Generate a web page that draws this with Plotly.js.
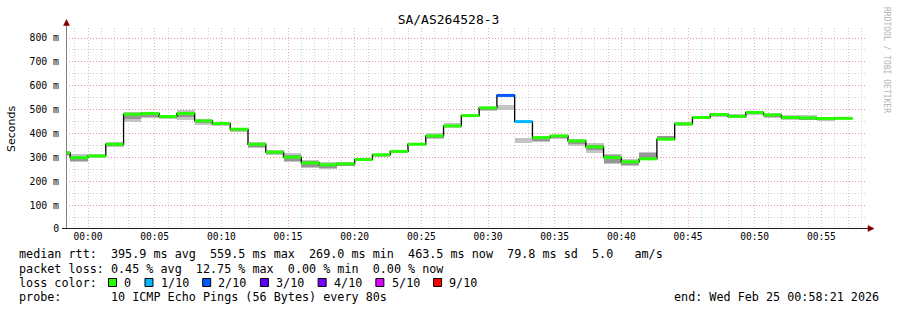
<!DOCTYPE html>
<html>
<head>
<meta charset="utf-8">
<script src="https://cdn.plot.ly/plotly-3.0.1.min.js"></script>
<style>html,body{margin:0;padding:0;background:#fff;}#chart{width:897px;height:310px;}</style>
</head>
<body>
<div id="chart"></div>
<script>
// ---- data ----
const chartTitle = 'SA/AS264528-3';
const firstStepStart = '2026-02-24T23:57:20';
const stepSeconds = 80;
const rangeStart = '2026-02-24 23:58:21';
const rangeEnd = '2026-02-25 00:58:21';

const medianRtt = [319, 299, 306, 355, 481, 484, 471, 484, 453, 442, 418, 355, 322, 301, 277, 269, 273, 291, 311, 325, 355, 390, 432, 475, 507.5, 559.5, 450, 383, 390, 369, 344, 299.5, 281.4, 294, 376, 440.5, 467, 479.6, 472, 488, 478, 467, 465.5, 462.8, 463.5];
const lostPings = [0,0,0,0,0,0,0,0,0,0,0,0,0,0,0,0,0,0,0,0,0,0,0,0,0,2,1,0,0,0,0,0,0,0,0,0,0,0,0,0,0,0,0,0,0];
const smokeLow  = [305,280,298,342,450,465,459,458,436,431,405,338,308,279,254,251,263,285,303,319,351,377,424,468,495,498,359,363,377,346,318,273,263,290,372,432,460,470,464,478,466,458,456,454,459];
const smokeHigh = [326,315,315,366,492,490,478,500,461,447,424,363,329,318,288,279,280,295,315,329,360,402,445,482,513,519,380,391,395,376,360,316,295,322,391,447,474,487,481,492,485,478,476,470,470];
const smokeCoreLow  = [312,283,300,348,459,470,463,470,442,434,410,342,313,284,258,256,266,287,305,321,352,382,428,471,500,null,null,370,382,355,330,277,270,293,378,436,463,474,467,481,470,460,458,455,462];
const smokeCoreHigh = [322,298,308,360,478,478,472,478,452,442,418,352,320,310,283,270,273,292,311,326,356,394,437,476,506,null,null,383,390,366,352,312,285,320,390,442,468,480,476,488,478,468,466,462,470];

const lossLevels = [0, 1, 2, 3, 4, 5, 9];
const lossLabels = ['0', '1/10', '2/10', '3/10', '4/10', '5/10', '9/10'];
const lossColors = ['#26ff00', '#00b8ff', '#0059ff', '#5e00ff', '#7e00ff', '#dd00ff', '#ff0000'];

const yTickVals = [0, 100, 200, 300, 400, 500, 600, 700, 800];
const yTickText = ['0', '100 m', '200 m', '300 m', '400 m', '500 m', '600 m', '700 m', '800 m'];

const statLines = [
  'median rtt:  395.9 ms avg  559.5 ms max  269.0 ms min  463.5 ms now  79.8 ms sd  5.0   am/s',
  'packet loss: 0.45 % avg  12.75 % max  0.00 % min  0.00 % now'
];
const lossColorLabel = 'loss color:';
const probeLine = 'probe:       10 ICMP Echo Pings (56 Bytes) every 80s';
const endLine = 'end: Wed Feb 25 00:58:21 2026';
const watermark = 'RRDTOOL / TOBI OETIKER';

// ---- helpers ----
const t0 = Date.parse(firstStepStart + 'Z');
function fmt(ms){ return new Date(ms).toISOString().replace('T',' ').replace('Z','').slice(0,19); }
const stepStart = medianRtt.map((_, i) => fmt(t0 + i*stepSeconds*1000));
const stepEnd = medianRtt.map((_, i) => fmt(t0 + (i+1)*stepSeconds*1000));
const stepMid = medianRtt.map((_, i) => fmt(t0 + (i+0.5)*stepSeconds*1000));
const nb = s => s.replace(/ /g, '\u00a0');
const PL = 66, PW = 800, PB = 229, PH = 201;
const px2x = px => (px - PL) / PW;
const py2y = py => (PB - py) / PH;
const MONO = 'DejaVu Sans Mono';

const traces = [];
// smoke: outer band
traces.push({
  type: 'bar', x: stepMid, base: smokeLow, y: smokeHigh.map((h, i) => h - smokeLow[i]),
  width: stepSeconds*1000, marker: {color: '#c4c4c4', line: {width: 0}}, hoverinfo: 'skip'
});
// smoke: core band
traces.push({
  type: 'bar', x: stepMid, base: smokeCoreLow,
  y: smokeCoreHigh.map((h, i) => (h == null || smokeCoreLow[i] == null) ? null : h - smokeCoreLow[i]),
  width: stepSeconds*1000, marker: {color: '#969696', line: {width: 0}}, hoverinfo: 'skip'
});
// median step line (black)
traces.push({
  type: 'scatter', mode: 'lines', x: stepStart.concat([stepEnd[stepEnd.length-1]]),
  y: medianRtt.concat([medianRtt[medianRtt.length-1]]),
  line: {shape: 'hv', color: '#000000', width: 1.3}, hoverinfo: 'skip'
});
// coloured median segments by loss
lossLevels.forEach((lv, j) => {
  const xs = [], ys = [];
  medianRtt.forEach((m, i) => {
    if (lostPings[i] === lv) { xs.push(stepStart[i], stepEnd[i], null); ys.push(m, m, null); }
  });
  if (xs.length) traces.push({type: 'scatter', mode: 'lines', x: xs, y: ys,
    line: {color: lossColors[j], width: 3}, hoverinfo: 'skip', connectgaps: false});
});

// ---- annotations ----
const ann = [];
const textFont = {family: MONO, size: 11.75, color: '#000'};
statLines.forEach((s, i) => ann.push({xref:'paper', yref:'paper', x: px2x(16.5), y: py2y(254.3 + i*14.2),
  xanchor:'left', yanchor:'middle', text: nb(s), showarrow:false, font: textFont}));
ann.push({xref:'paper', yref:'paper', x: px2x(16.5), y: py2y(282.7), xanchor:'left', yanchor:'middle',
  text: nb(lossColorLabel), showarrow:false, font: textFont});
ann.push({xref:'paper', yref:'paper', x: px2x(16.5), y: py2y(296.7), xanchor:'left', yanchor:'middle',
  text: nb(probeLine), showarrow:false, font: textFont});
ann.push({xref:'paper', yref:'paper', x: px2x(881), y: py2y(296.7), xanchor:'right', yanchor:'middle',
  text: nb(endLine), showarrow:false, font: textFont});
ann.push({xref:'paper', yref:'paper', x: px2x(11), y: py2y(129), xanchor:'center', yanchor:'middle',
  text: 'Seconds', textangle: -90, showarrow:false, font: {family:'DejaVu Sans', size: 11, color:'#000'}});
ann.push({xref:'paper', yref:'paper', x: px2x(887), y: py2y(60), xanchor:'center', yanchor:'middle',
  text: nb(watermark), textangle: 90, showarrow:false, font: {family: MONO, size: 8, color:'#b4b4b4'}});

const shapes = [];
let sx = 109;
lossLabels.forEach((lab, j) => {
  shapes.push({type:'rect', xref:'paper', yref:'paper', x0: px2x(sx - 0.5), x1: px2x(sx + 7.5), y0: py2y(286.5), y1: py2y(278.5),
    fillcolor: lossColors[j], line: {color:'#000', width: 1}, layer:'above'});
  ann.push({xref:'paper', yref:'paper', x: px2x(sx+13.2), y: py2y(282.7), xanchor:'left', yanchor:'middle',
    text: lab, showarrow:false, font: textFont});
  sx = sx + 13.2 + lab.length*7.08 + 16.2;
});
// axis lines and arrows
shapes.push({type:'line', xref:'paper', yref:'paper', x0: px2x(66.5), x1: px2x(66.5), y0: py2y(229), y1: py2y(24),
  line:{color:'#808080', width:1}, layer:'above'});
shapes.push({type:'line', xref:'paper', yref:'paper', x0: px2x(62), x1: px2x(869), y0: py2y(228.5), y1: py2y(228.5),
  line:{color:'#202020', width:1}, layer:'above'});
shapes.push({type:'path', xref:'paper', yref:'paper',
  path: `M ${px2x(63.5)} ${py2y(25.5)} L ${px2x(69.5)} ${py2y(25.5)} L ${px2x(66.5)} ${py2y(19.5)} Z`,
  fillcolor:'#7f0000', line:{color:'#7f0000', width:0.5}, layer:'above'});
shapes.push({type:'path', xref:'paper', yref:'paper',
  path: `M ${px2x(868)} ${py2y(225.5)} L ${px2x(868)} ${py2y(231.5)} L ${px2x(874)} ${py2y(228.5)} Z`,
  fillcolor:'#7f0000', line:{color:'#7f0000', width:0.5}, layer:'above'});

const majorGrid = 'rgba(240,100,100,0.55)';
const minorGrid = 'rgba(150,150,150,0.45)';
const layout = {
  width: 897, height: 310,
  margin: {l: PL, r: 897 - PL - PW, t: PB - PH, b: 310 - PB, pad: 0},
  paper_bgcolor: '#ffffff', plot_bgcolor: '#ffffff',
  showlegend: false, barmode: 'overlay', bargap: 0, hovermode: false,
  title: {text: chartTitle, xref: 'container', x: 0.5, xanchor: 'center', yref: 'container', y: 1 - 19/310, yanchor: 'middle',
    font: {family: MONO, size: 13, color: '#000'}},
  xaxis: {
    type: 'date', range: [rangeStart, rangeEnd], tickformat: '%H:%M', tick0: '2026-02-25 00:00:00', dtick: 300000,
    showgrid: true, gridcolor: majorGrid, griddash: '1px,2px', gridwidth: 1,
    minor: {tick0: '2026-02-25 00:00:00', dtick: 60000, showgrid: true, gridcolor: minorGrid, griddash: '1px,2px', gridwidth: 1},
    showline: false, zeroline: false, ticks: '', ticklen: 0, ticklabelstandoff: 0,
    tickfont: {family: MONO, size: 9.6, color: '#000000'}, fixedrange: true
  },
  yaxis: {
    range: [0, 842], tickmode: 'array', tickvals: yTickVals, ticktext: yTickText,
    showgrid: true, gridcolor: majorGrid, griddash: '1px,2px', gridwidth: 1,
    minor: {tickmode: 'linear', tick0: 0, dtick: 50, showgrid: true, gridcolor: minorGrid, griddash: '1px,2px', gridwidth: 1},
    showline: false, zeroline: false, ticks: 'outside', ticklen: 4, tickcolor: 'rgba(255,255,255,0)',
    tickfont: {family: MONO, size: 9.8, color: '#000000'}, fixedrange: true
  },
  annotations: ann, shapes: shapes
};
Plotly.newPlot('chart', traces, layout, {staticPlot: true, displayModeBar: false});
</script>
</body>
</html>
